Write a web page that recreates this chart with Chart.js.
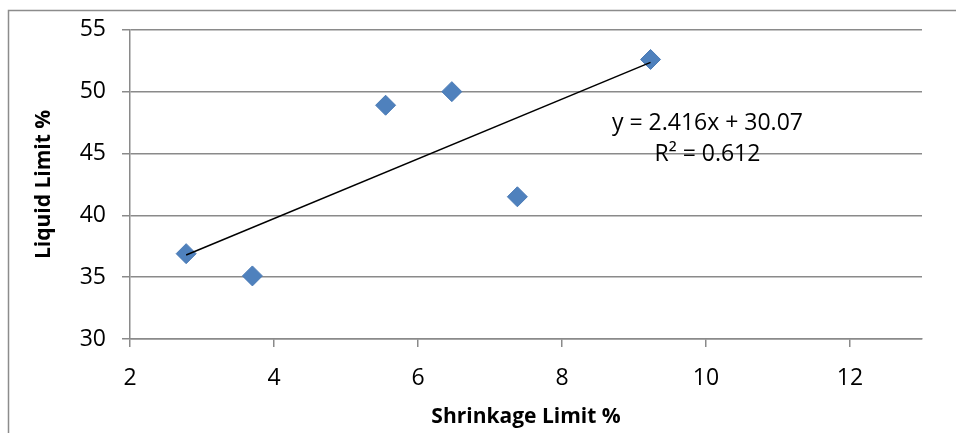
<!DOCTYPE html>
<html>
<head>
<meta charset="utf-8">
<script src="https://cdn.jsdelivr.net/npm/chart.js@4.4.0/dist/chart.umd.min.js"></script>
<style>
  html, body { margin: 0; padding: 0; background: #fff; }
  #wrap { width: 956px; height: 433px; position: relative; }
</style>
</head>
<body>
<div id="wrap"><canvas id="soilChart" width="956" height="433"></canvas></div>
<script>
// Shrinkage limit (x) vs liquid limit (y)
var shrinkage = [2.78, 3.70, 5.55, 6.47, 7.38, 9.23];
var liquid = [36.9, 35.1, 48.9, 50.0, 41.5, 52.6];

// trendline as printed on the chart
var slope = 2.416;
var intercept = 30.07;
var trendLabel = ['y = 2.416x + 30.07', 'R\u00b2 = 0.612'];

var xTicks = [2, 4, 6, 8, 10, 12];
var yTicks = [30, 35, 40, 45, 50, 55];

var FONT = "'Open Sans', sans-serif";
var GRID = '#8a8a8a';

var points = shrinkage.map(function (x, i) { return { x: x, y: liquid[i] }; });
var xMin = Math.min.apply(null, shrinkage);
var xMax = Math.max.apply(null, shrinkage);
var trend = [
    { x: xMin, y: slope * xMin + intercept },
    { x: xMax, y: slope * xMax + intercept }
];

// frame round the chart + equation text
var extras = {
    id: 'extras',
    afterDraw: function (chart) {
        var c = chart.ctx;
        c.save();
        c.strokeStyle = '#8c8c8c';
        c.lineWidth = 1.5;
        c.beginPath();
        c.moveTo(8.5, 433);
        c.lineTo(8.5, 10.5);
        c.lineTo(956, 10.5);
        c.stroke();

        var xs = chart.scales.x, ys = chart.scales.y;
        c.fillStyle = '#000';
        c.font = '23px ' + FONT;
        c.textAlign = 'center';
        c.textBaseline = 'middle';
        c.fillText(trendLabel[0], xs.getPixelForValue(10.02), ys.getPixelForValue(47.45));
        c.fillText(trendLabel[1], xs.getPixelForValue(10.02), ys.getPixelForValue(44.95));
        c.restore();
    }
};

var ctx = document.getElementById('soilChart').getContext('2d');

var myChart = new Chart(ctx, {
    type: 'scatter',
    data: {
        datasets: [{
            label: 'data',
            data: points,
            pointStyle: 'rectRot',
            pointRadius: 10,
            pointHoverRadius: 10,
            backgroundColor: '#4F81BD',
            borderColor: '#4A7AB5',
            borderWidth: 1,
            order: 2
        }, {
            label: 'trend',
            data: trend,
            showLine: true,
            borderColor: '#000',
            borderWidth: 1.5,
            pointRadius: 0,
            fill: false,
            order: 1
        }]
    },
    options: {
        responsive: false,
        animation: false,
        layout: {
            padding: { left: 0, top: 25, right: 34, bottom: 0 }
        },
        plugins: {
            legend: { display: false },
            tooltip: { enabled: false }
        },
        scales: {
            x: {
                type: 'linear',
                min: 2,
                max: 13,
                afterFit: function (scale) { scale.height = 94; },
                afterBuildTicks: function (scale) {
                    scale.ticks = xTicks.map(function (v) { return { value: v }; });
                },
                ticks: {
                    padding: 18,
                    color: '#000',
                    font: { family: FONT, size: 23 },
                    maxRotation: 0
                },
                grid: {
                    drawOnChartArea: false,
                    drawTicks: true,
                    tickLength: 8,
                    color: GRID,
                    lineWidth: 1.5
                },
                border: { display: true, color: GRID, width: 1.5 },
                title: {
                    display: true,
                    text: 'Shrinkage Limit %',
                    color: '#000',
                    font: { family: FONT, size: 21, weight: 'bold' },
                    padding: { top: 0, bottom: 3 }
                }
            },
            y: {
                type: 'linear',
                min: 30,
                max: 55,
                afterFit: function (scale) { scale.width = 130; },
                afterBuildTicks: function (scale) {
                    scale.ticks = yTicks.map(function (v) { return { value: v }; });
                },
                ticks: {
                    padding: 16,
                    color: '#000',
                    font: { family: FONT, size: 23 }
                },
                grid: {
                    drawTicks: true,
                    tickLength: 8,
                    color: GRID,
                    lineWidth: 1.5
                },
                border: { display: true, color: GRID, width: 1.5 },
                title: {
                    display: true,
                    text: 'Liquid Limit %',
                    color: '#000',
                    font: { family: FONT, size: 21, weight: 'bold' },
                    padding: { top: 31, bottom: 0 }
                }
            }
        }
    },
    plugins: [extras]
});
</script>
</body>
</html>
